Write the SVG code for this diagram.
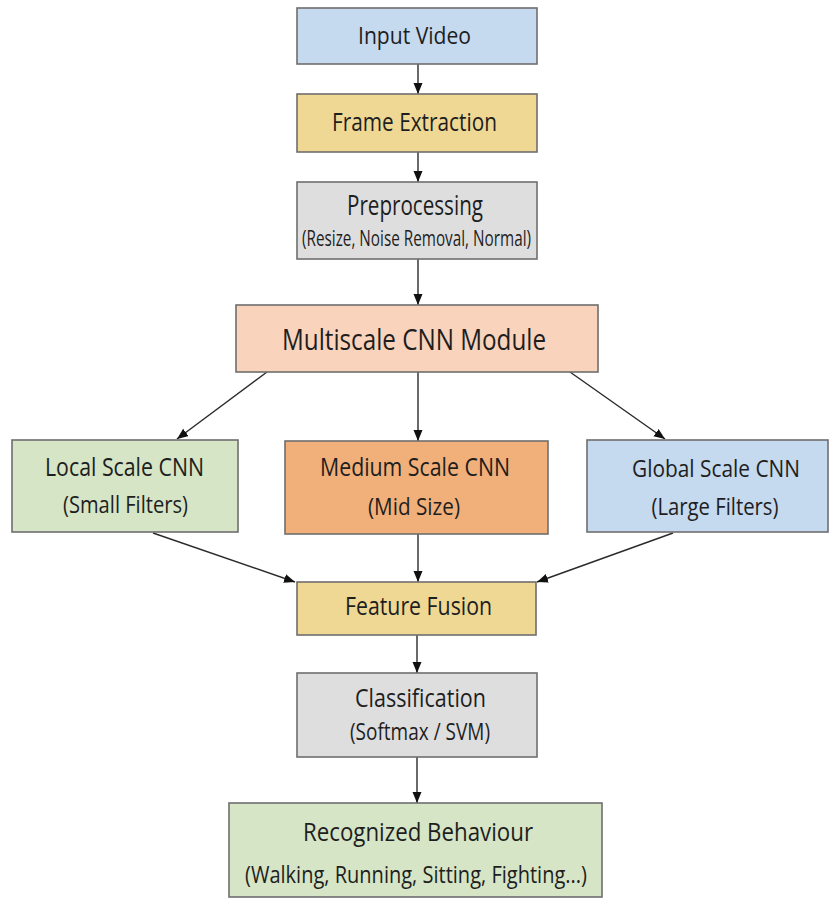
<svg xmlns="http://www.w3.org/2000/svg" width="830" height="899" viewBox="0 0 830 899">
  <style>
    .box { stroke: #6e6e6e; stroke-width: 1.6; }
    .t { font-family: "Open Sans", "Liberation Sans", sans-serif; fill: #1e1e1e; text-anchor: middle; }
    .edge { stroke: #2a2a2a; stroke-width: 1.4; fill: none; marker-end: url(#arrow); }
    .blue { fill: #c5d9ef; }
    .gold { fill: #efd894; }
    .grey { fill: #dedede; }
    .peach { fill: #f9d3bb; }
    .green { fill: #d5e5c6; }
    .orange { fill: #f1b07a; }
  </style>
  <defs>
    <marker id="arrow" markerUnits="userSpaceOnUse" markerWidth="12" markerHeight="10" refX="11" refY="4.5" orient="auto">
      <path d="M0,0 L11,4.5 L0,9 z" fill="#111"/>
    </marker>
  </defs>
  <rect width="830" height="899" fill="#ffffff"/>

  <g id="connectors">
    <line class="edge" x1="418" y1="64" x2="418" y2="94"/>
    <line class="edge" x1="418" y1="152" x2="418" y2="182"/>
    <line class="edge" x1="418" y1="259" x2="418" y2="305"/>
    <line class="edge" x1="418" y1="372" x2="418" y2="441"/>
    <line class="edge" x1="267" y1="372" x2="177" y2="439"/>
    <line class="edge" x1="570" y1="372" x2="665" y2="439"/>
    <line class="edge" x1="153" y1="533" x2="295" y2="582"/>
    <line class="edge" x1="418" y1="534" x2="418" y2="582"/>
    <line class="edge" x1="673" y1="533" x2="537" y2="582"/>
    <line class="edge" x1="417" y1="635" x2="417" y2="673"/>
    <line class="edge" x1="417" y1="757" x2="417" y2="803"/>
  </g>

  <g id="input-video">
    <rect class="box blue" x="297" y="8" width="240" height="56"/>
    <text class="t" x="414.5" y="44" font-size="23" textLength="113" lengthAdjust="spacingAndGlyphs">Input Video</text>
  </g>

  <g id="frame-extraction">
    <rect class="box gold" x="297" y="94" width="240" height="58"/>
    <text class="t" x="414.5" y="131" font-size="26" textLength="165" lengthAdjust="spacingAndGlyphs">Frame Extraction</text>
  </g>

  <g id="preprocessing">
    <rect class="box grey" x="297" y="182" width="240" height="77"/>
    <text class="t" x="415" y="215" font-size="27" textLength="136" lengthAdjust="spacingAndGlyphs">Preprocessing</text>
    <text class="t" x="416.5" y="246" font-size="21" textLength="229" lengthAdjust="spacingAndGlyphs">(Resize, Noise Removal, Normal)</text>
  </g>

  <g id="multiscale-cnn">
    <rect class="box peach" x="236" y="305" width="362" height="67"/>
    <text class="t" x="414" y="350" font-size="30" textLength="264" lengthAdjust="spacingAndGlyphs">Multiscale CNN Module</text>
  </g>

  <g id="local-scale">
    <rect class="box green" x="12" y="440" width="226" height="92"/>
    <text class="t" x="124.5" y="476" font-size="25" textLength="159" lengthAdjust="spacingAndGlyphs">Local Scale CNN</text>
    <text class="t" x="125.5" y="513" font-size="23" textLength="125" lengthAdjust="spacingAndGlyphs">(Small Filters)</text>
  </g>

  <g id="medium-scale">
    <rect class="box orange" x="285" y="441" width="263" height="93"/>
    <text class="t" x="415" y="476" font-size="25" textLength="190" lengthAdjust="spacingAndGlyphs">Medium Scale CNN</text>
    <text class="t" x="414" y="515" font-size="23" textLength="92" lengthAdjust="spacingAndGlyphs">(Mid Size)</text>
  </g>

  <g id="global-scale">
    <rect class="box blue" x="587" y="440" width="241" height="92"/>
    <text class="t" x="716" y="477" font-size="24" textLength="168" lengthAdjust="spacingAndGlyphs">Global Scale CNN</text>
    <text class="t" x="715" y="515" font-size="23" textLength="127" lengthAdjust="spacingAndGlyphs">(Large Filters)</text>
  </g>

  <g id="feature-fusion">
    <rect class="box gold" x="297" y="582" width="239" height="53"/>
    <text class="t" x="418.5" y="615" font-size="26" textLength="147" lengthAdjust="spacingAndGlyphs">Feature Fusion</text>
  </g>

  <g id="classification">
    <rect class="box grey" x="297" y="673" width="240" height="84"/>
    <text class="t" x="420.5" y="707" font-size="26" textLength="131" lengthAdjust="spacingAndGlyphs">Classification</text>
    <text class="t" x="420" y="740" font-size="23" textLength="140" lengthAdjust="spacingAndGlyphs">(Softmax / SVM)</text>
  </g>

  <g id="recognized-behaviour">
    <rect class="box green" x="229" y="803" width="373" height="94"/>
    <text class="t" x="418" y="841" font-size="26" textLength="230" lengthAdjust="spacingAndGlyphs">Recognized Behaviour</text>
    <text class="t" x="416" y="883" font-size="24" textLength="342" lengthAdjust="spacingAndGlyphs">(Walking, Running, Sitting, Fighting...)</text>
  </g>
</svg>
